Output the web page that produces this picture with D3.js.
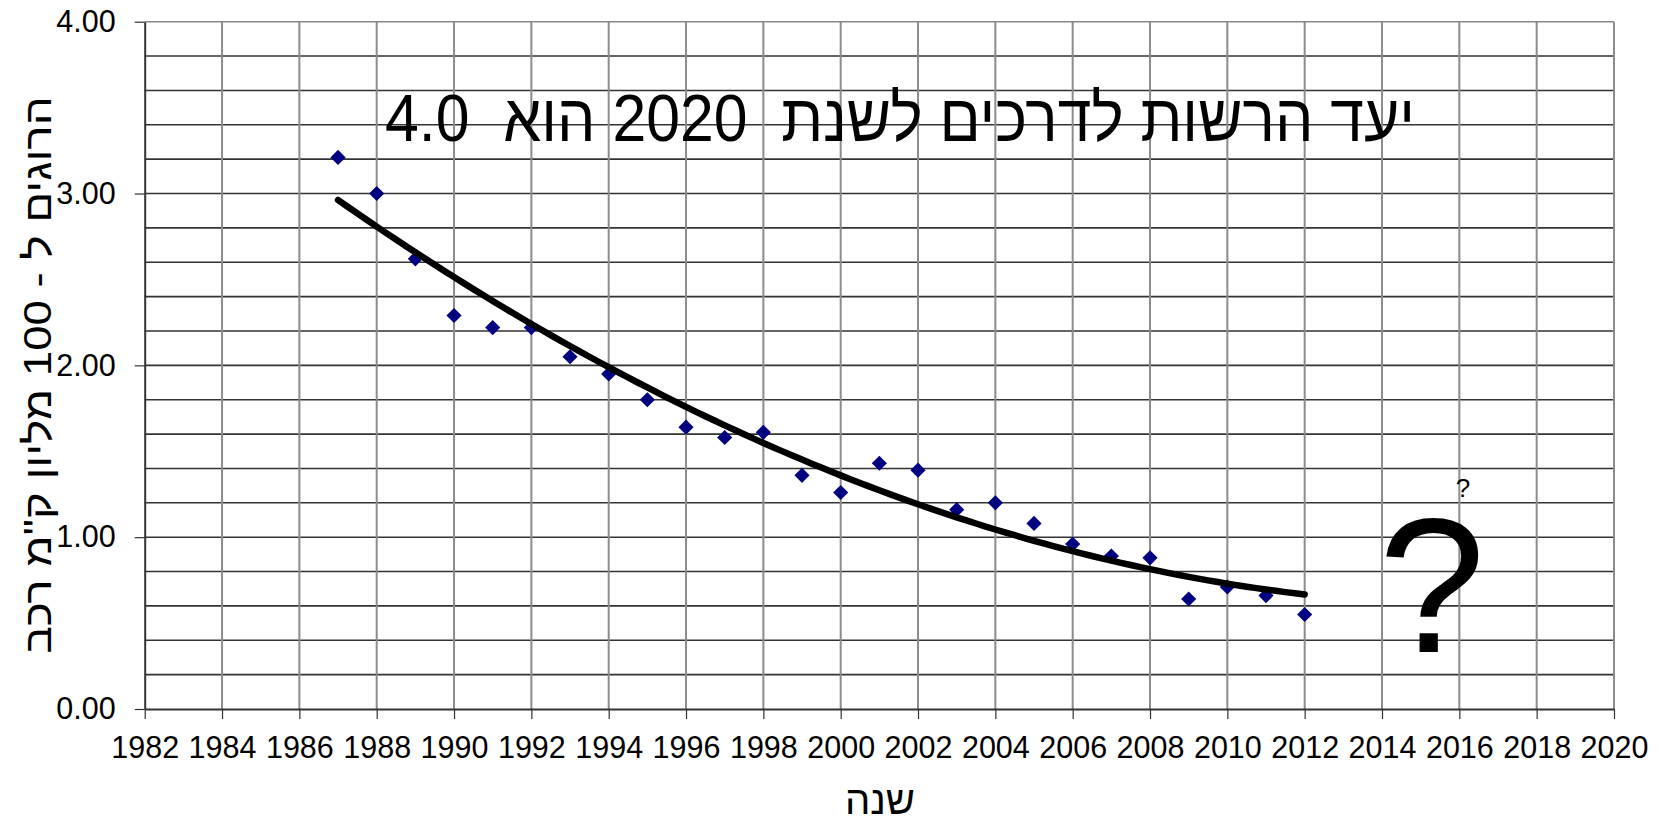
<!DOCTYPE html>
<html>
<head>
<meta charset="utf-8">
<script src="https://cdn.jsdelivr.net/npm/d3@7"></script>
<style>
  body { margin: 0; background: #fff; }
  text { font-family: "Liberation Sans", Arial, "DejaVu Sans", sans-serif; }
</style>
</head>
<body>
<div id="chart"></div>
<script>
// data
const years = [1987, 1988, 1989, 1990, 1991, 1992, 1993, 1994, 1995, 1996, 1997, 1998, 1999,
  2000, 2001, 2002, 2003, 2004, 2005, 2006, 2007, 2008, 2009, 2010, 2011, 2012];
const rates = [3.21, 3.00, 2.62, 2.29, 2.22, 2.22, 2.05, 1.95, 1.80, 1.64, 1.58, 1.61, 1.36,
  1.26, 1.43, 1.39, 1.16, 1.20, 1.08, 0.96, 0.89, 0.88, 0.64, 0.71, 0.66, 0.55];
const xTicks = [1982, 1984, 1986, 1988, 1990, 1992, 1994, 1996, 1998, 2000,
  2002, 2004, 2006, 2008, 2010, 2012, 2014, 2016, 2018, 2020];
const yTicks = [0, 1, 2, 3, 4];
const yTitle = "הרוגים ל - 100 מליון ק\"מ רכב";
const xTitle = "שנה";
const mainNote = "יעד הרשות לדרכים לשנת  2020 הוא  4.0";

const width = 1661, height = 822;
const margin = { top: 21.7, right: 47, bottom: 113, left: 144.7 };

const svg = d3.select("#chart").append("svg")
  .attr("width", width)
  .attr("height", height);

const x = d3.scaleLinear().domain([1982, 2020]).range([margin.left, width - margin.right]);
const y = d3.scaleLinear().domain([0, 4]).range([height - margin.bottom, margin.top]);

// gridlines
const hGrid = d3.range(1, 21).map(i => i / 5);
svg.append("g")
  .selectAll("line")
  .data(hGrid)
  .join("line")
  .attr("x1", x(1982)).attr("x2", x(2020))
  .attr("y1", d => y(d)).attr("y2", d => y(d))
  .attr("stroke", d => d === 4 ? "#888" : "#333")
  .attr("stroke-width", 1.6);

svg.append("g")
  .selectAll("line")
  .data(xTicks.slice(1))
  .join("line")
  .attr("x1", d => x(d)).attr("x2", d => x(d))
  .attr("y1", y(0)).attr("y2", y(4))
  .attr("stroke", "#8c8c8c")
  .attr("stroke-width", 2);

// axes
const xAxis = svg.append("g")
  .attr("transform", `translate(0,${y(0)})`)
  .call(d3.axisBottom(x).tickValues(xTicks).tickFormat(d3.format("d")).tickSize(10).tickSizeOuter(0).tickPadding(17));
const yAxis = svg.append("g")
  .attr("transform", `translate(${x(1982)},0)`)
  .call(d3.axisLeft(y).tickValues(yTicks).tickFormat(d3.format(".2f")).tickSize(10).tickSizeOuter(0).tickPadding(19));

[xAxis, yAxis].forEach(a => {
  a.attr("font-family", null).attr("font-size", null);
  a.select(".domain").attr("stroke", "#333").attr("stroke-width", 2);
  a.selectAll(".tick line").attr("stroke", "#333").attr("stroke-width", 1.2);
  a.selectAll("text")
    .attr("fill", "#000")
    .style("font-size", "30.5px");
});

// polynomial (order 2) trendline, least squares on the data
function quadFit(xs, ys) {
  const x0 = d3.mean(xs);
  let s = [0, 0, 0, 0, 0], t = [0, 0, 0];
  xs.forEach((xv, i) => {
    const u = xv - x0;
    for (let k = 0; k < 5; k++) s[k] += Math.pow(u, k);
    for (let k = 0; k < 3; k++) t[k] += ys[i] * Math.pow(u, k);
  });
  const A = [[s[0], s[1], s[2]], [s[1], s[2], s[3]], [s[2], s[3], s[4]]];
  const det = m => m[0][0] * (m[1][1] * m[2][2] - m[1][2] * m[2][1])
    - m[0][1] * (m[1][0] * m[2][2] - m[1][2] * m[2][0])
    + m[0][2] * (m[1][0] * m[2][1] - m[1][1] * m[2][0]);
  const D = det(A);
  const coef = [0, 1, 2].map(c => det(A.map((row, r) => row.map((v, j) => j === c ? t[r] : v))) / D);
  return xv => { const u = xv - x0; return coef[0] + coef[1] * u + coef[2] * u * u; };
}
const trend = quadFit(years, rates);

// markers
svg.append("g")
  .selectAll("path")
  .data(years)
  .join("path")
  .attr("d", d3.symbol(d3.symbolSquare, 115))
  .attr("transform", (d, i) => `translate(${x(d)},${y(rates[i])}) rotate(45)`)
  .attr("fill", "#000080");

const trendLine = d3.line()
  .x(d => x(d))
  .y(d => y(trend(d)))
  .curve(d3.curveMonotoneX);
svg.append("path")
  .datum(d3.range(years[0], years[years.length - 1] + 0.01, 0.25))
  .attr("d", trendLine)
  .attr("fill", "none")
  .attr("stroke", "#000")
  .attr("stroke-width", 6.5)
  .attr("stroke-linecap", "round");

// texts
svg.append("text")
  .attr("transform", "translate(900,141) scale(0.92,1)")
  .attr("text-anchor", "middle")
  .attr("direction", "rtl")
  .style("white-space", "pre")
  .style("font-size", "66px")
  .text(mainNote);

svg.append("text")
  .attr("transform", "translate(51,375) rotate(-90) scale(1.17,1)")
  .attr("text-anchor", "middle")
  .attr("direction", "rtl")
  .style("font-size", "39px")
  .text(yTitle);

svg.append("text")
  .attr("x", 880).attr("y", 814)
  .attr("text-anchor", "middle")
  .style("font-size", "40px")
  .text(xTitle);

svg.append("text")
  .attr("x", 1432).attr("y", 652)
  .attr("text-anchor", "middle")
  .style("font-size", "192px")
  .text("?");

svg.append("text")
  .attr("x", 1463).attr("y", 497)
  .attr("text-anchor", "middle")
  .style("font-size", "26px")
  .text("?");
</script>
</body>
</html>
